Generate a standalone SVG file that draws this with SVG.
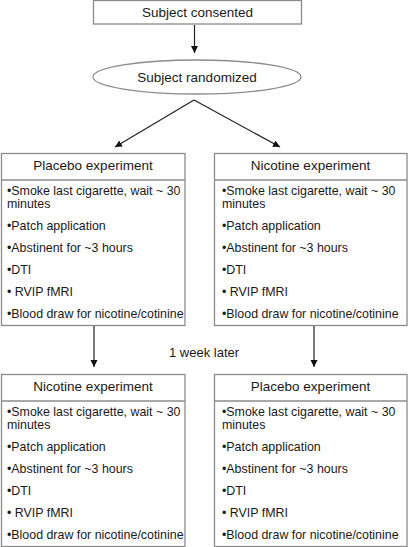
<svg xmlns="http://www.w3.org/2000/svg" width="408" height="547" viewBox="0 0 408 547">
<defs>
<marker id="ah" markerWidth="8" markerHeight="8" refX="7" refY="4" orient="auto" markerUnits="userSpaceOnUse">
<path d="M0,0.5 L7,4 L0,7.5 Z" fill="#111"/>
</marker>
<style>
.box{fill:#fff;stroke:#8c8c8c;stroke-width:1.3}
.t{font-family:"Liberation Sans",Arial,sans-serif;font-size:12.4px;fill:#1a1a1a}
.h{font-family:"Liberation Sans",Arial,sans-serif;font-size:13.5px;fill:#1a1a1a;text-anchor:middle}
.w{font-family:"Liberation Sans",Arial,sans-serif;font-size:13px;fill:#1a1a1a}
.c{stroke:#222;stroke-width:1.2;fill:none;marker-end:url(#ah)}
</style>
</defs>
<rect width="408" height="547" fill="#fff"/>
<g id="consented">
<rect class="box" x="93.5" y="0.5" width="208" height="23.5"/>
<text class="h" x="197.5" y="17">Subject consented</text>
</g>
<g id="randomized">
<ellipse class="box" cx="197" cy="77" rx="104" ry="17"/>
<text class="h" x="197" y="82">Subject randomized</text>
</g>
<g id="placebo1">
<rect class="box" x="1.5" y="153.5" width="183.5" height="172"/>
<line x1="1.5" y1="180" x2="185" y2="180" stroke="#8c8c8c" stroke-width="1.3"/>
<text class="h" x="93" y="170">Placebo experiment</text>
<text class="t" x="7" y="195">•Smoke last cigarette, wait ~ 30</text>
<text class="t" x="7" y="208">minutes</text>
<text class="t" x="7" y="230">•Patch application</text>
<text class="t" x="7" y="252">•Abstinent for ~3 hours</text>
<text class="t" x="7" y="274">•DTI</text>
<text class="t" x="7" y="296">• RVIP fMRI</text>
<text class="t" x="7" y="318">•Blood draw for nicotine/cotinine</text>
</g>
<g id="nicotine1">
<rect class="box" x="214.5" y="153.5" width="192.5" height="172"/>
<line x1="214.5" y1="180" x2="407" y2="180" stroke="#8c8c8c" stroke-width="1.3"/>
<text class="h" x="310.5" y="170">Nicotine experiment</text>
<text class="t" x="222" y="195">•Smoke last cigarette, wait ~ 30</text>
<text class="t" x="222" y="208">minutes</text>
<text class="t" x="222" y="230">•Patch application</text>
<text class="t" x="222" y="252">•Abstinent for ~3 hours</text>
<text class="t" x="222" y="274">•DTI</text>
<text class="t" x="222" y="296">• RVIP fMRI</text>
<text class="t" x="222" y="318">•Blood draw for nicotine/cotinine</text>
</g>
<g id="nicotine2">
<rect class="box" x="1.5" y="374.5" width="183.5" height="172"/>
<line x1="1.5" y1="401" x2="185" y2="401" stroke="#8c8c8c" stroke-width="1.3"/>
<text class="h" x="93" y="391">Nicotine experiment</text>
<text class="t" x="7" y="416">•Smoke last cigarette, wait ~ 30</text>
<text class="t" x="7" y="429">minutes</text>
<text class="t" x="7" y="451">•Patch application</text>
<text class="t" x="7" y="473">•Abstinent for ~3 hours</text>
<text class="t" x="7" y="495">•DTI</text>
<text class="t" x="7" y="517">• RVIP fMRI</text>
<text class="t" x="7" y="539">•Blood draw for nicotine/cotinine</text>
</g>
<g id="placebo2">
<rect class="box" x="214.5" y="374.5" width="192.5" height="172"/>
<line x1="214.5" y1="401" x2="407" y2="401" stroke="#8c8c8c" stroke-width="1.3"/>
<text class="h" x="310.5" y="391">Placebo experiment</text>
<text class="t" x="222" y="416">•Smoke last cigarette, wait ~ 30</text>
<text class="t" x="222" y="429">minutes</text>
<text class="t" x="222" y="451">•Patch application</text>
<text class="t" x="222" y="473">•Abstinent for ~3 hours</text>
<text class="t" x="222" y="495">•DTI</text>
<text class="t" x="222" y="517">• RVIP fMRI</text>
<text class="t" x="222" y="539">•Blood draw for nicotine/cotinine</text>
</g>
<g id="connectors">
<line class="c" x1="194.5" y1="25" x2="194.5" y2="53"/>
<line class="c" x1="194" y1="100" x2="115" y2="147"/>
<line class="c" x1="194" y1="100" x2="280" y2="147"/>
<line class="c" x1="94" y1="326" x2="94" y2="367"/>
<line class="c" x1="314" y1="326" x2="314" y2="367"/>
<text class="w" x="169" y="357">1 week later</text>
</g>
</svg>
